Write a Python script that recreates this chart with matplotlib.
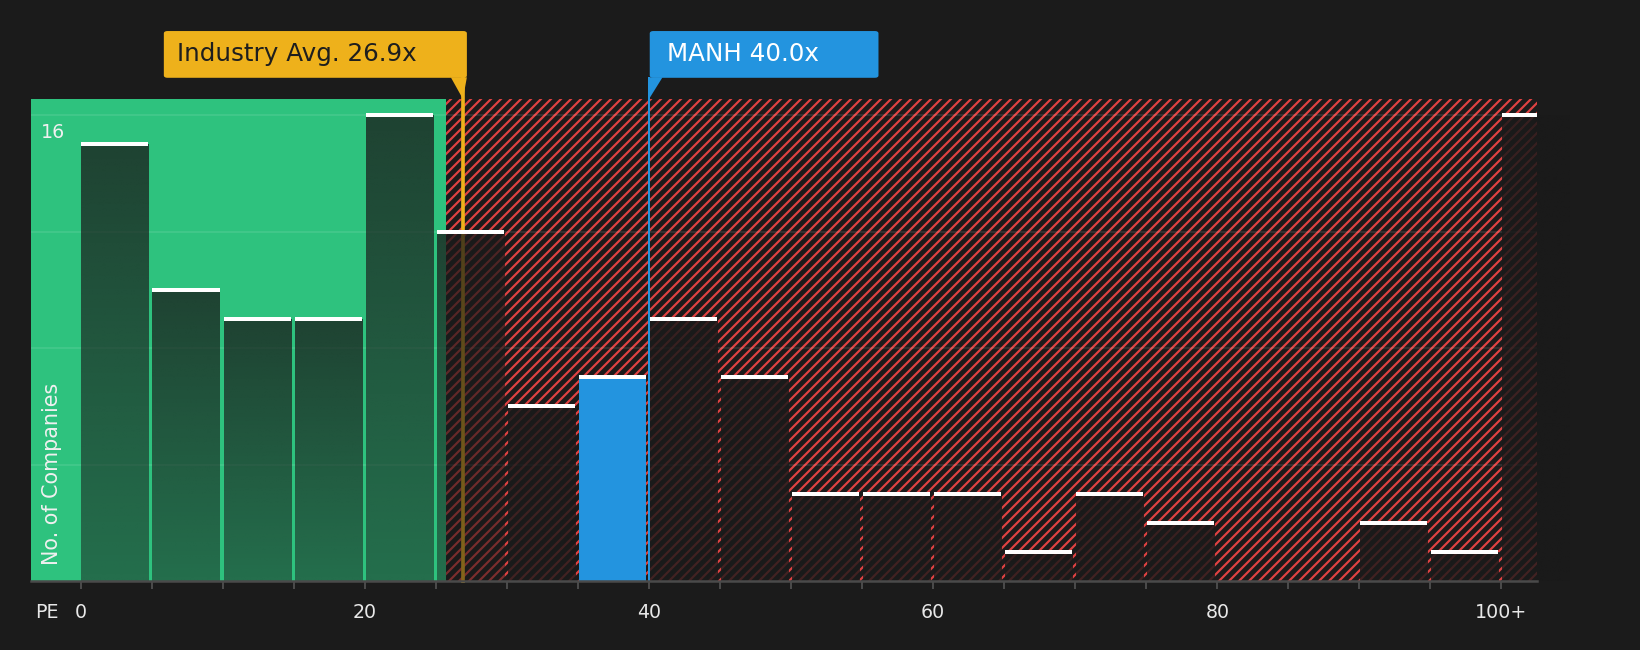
import numpy as np
import matplotlib
matplotlib.use("Agg")
import matplotlib.pyplot as plt
from matplotlib.patches import FancyBboxPatch, Polygon
from matplotlib.transforms import blended_transform_factory

# PE distribution, bins of 5x, last bin is 100+
bin_left = [0, 5, 10, 15, 20, 25, 30, 35, 40, 45, 50, 55, 60, 65, 70, 75, 80, 85, 90, 95, 100]
counts = [15, 10, 9, 9, 16, 12, 6, 7, 9, 7, 3, 3, 3, 1, 3, 2, 0, 0, 2, 1, 16]
tick_vals = [0, 20, 40, 60, 80, 100]
tick_text = ["0", "20", "40", "60", "80", "100+"]

industry_avg = 26.9
company = "MANH"
company_pe = 40.0
fair_edge = 25.7

bg = "#1b1b1b"
green = "#2ec27e"
red = "#e04242"
orange = "#eeb11b"
blue = "#2394df"

plt.rcParams["hatch.linewidth"] = 1.3
plt.rcParams["font.family"] = "DejaVu Sans"

dpi = 120
fig = plt.figure(figsize=(1640 / dpi, 650 / dpi), dpi=dpi, facecolor=bg)
ax = fig.add_axes([31 / 1640, 69 / 650, 1506 / 1640, 482 / 650])
ax.set_facecolor(bg)

xmin, xmax = -3.5, 102.5
ymax = 16.56
ax.set_xlim(xmin, xmax)
ax.set_ylim(0, ymax)

# background zones
ax.axvspan(xmin, fair_edge, color=green, lw=0, zorder=0)
ax.axvspan(fair_edge, xmax, facecolor=bg, edgecolor=red, hatch="////", lw=0, zorder=0)

for g in [4, 8, 12, 16]:
    ax.axhline(g, color="white", alpha=0.09, lw=1.2, zorder=1)

xa = ax.get_xaxis_transform()

# marker lines
ax.plot([industry_avg, industry_avg], [0, 1.044], transform=xa, color=orange,
        lw=2.2, clip_on=False, zorder=2)
ax.plot([company_pe, company_pe], [0, 1.044], transform=xa, color=blue,
        lw=1.2, clip_on=False, zorder=2)

# bars
width = 4.72
lefts = [b + 0.05 for b in bin_left]
bars = ax.bar(lefts, counts, width=width, align="edge", color="none", lw=0, zorder=3)
for left, c, patch in zip(lefts, counts, bars):
    if c == 0:
        continue
    if left <= company_pe < left + width + 0.3:
        patch.set_facecolor(blue)
    else:
        n = 64
        grad = np.zeros((n, 1, 4))
        grad[..., :3] = np.array([26, 26, 26]) / 255
        if left < fair_edge:
            grad[:, 0, 3] = np.linspace(0.76, 0.5, n)
        else:
            grad[:, 0, 3] = np.linspace(0.86, 0.8, n)
        im = ax.imshow(grad, extent=[left, left + width, 0, c], aspect="auto",
                       origin="upper", zorder=3, interpolation="bilinear")
        im.set_clip_path(patch)
    ax.hlines(c, left, left + width, color="white", lw=2.4, zorder=4)

ax.set_xlim(xmin, xmax)
ax.set_ylim(0, ymax)

# axes styling
for s in ["top", "left", "right"]:
    ax.spines[s].set_visible(False)
ax.spines["bottom"].set_color("#4a4a4a")
ax.spines["bottom"].set_linewidth(1.5)
ax.spines["bottom"].set_zorder(5)
ax.set_yticks([])
ax.set_xticks(bin_left)
ax.set_xticklabels([tick_text[tick_vals.index(b)] if b in tick_vals else "" for b in bin_left])
ax.tick_params(axis="x", colors="#4a4a4a", length=5, width=1.2, pad=8.5,
               labelcolor="#e8e8e8", labelsize=11.4)

ya = blended_transform_factory(ax.transAxes, ax.transData)
ax.text(0.0068, 16 - 0.25, "16", transform=ya, color="#f0f0f0", fontsize=11.4,
        va="top", ha="left", zorder=6)
ax.text(0.014, 0.033, "No. of Companies", transform=ax.transAxes, rotation=90,
        color="#f0f0f0", fontsize=12.4, va="bottom", ha="center", zorder=6)
fig.text(35 / 1640, 1 - 613 / 650, "PE", color="#e8e8e8", fontsize=11.4,
         va="center", ha="left")

# label boxes
y0, y1 = 1.044, 1.141
ind_left, ind_right = industry_avg - 21.05, industry_avg + 0.28
box = FancyBboxPatch((ind_left, y0), ind_right - ind_left, y1 - y0,
                     boxstyle="round,pad=0,rounding_size=0.25", transform=xa,
                     fc=orange, ec="none", clip_on=False, zorder=6,
                     mutation_aspect=0.02)
ax.add_patch(box)
ax.add_patch(Polygon([[industry_avg - 0.85, y0 + 0.001], [industry_avg, 1.0],
                      [ind_right, y0 + 0.001]], closed=True, transform=xa,
                     fc=orange, ec="none", clip_on=False, zorder=6))
ax.text(ind_left + 0.9, (y0 + y1) / 2, "Industry Avg. %.1fx" % industry_avg,
        transform=xa, color="#1e1e1e", fontsize=14.8, va="center", ha="left", zorder=7)

co_left, co_right = company_pe + 0.05, company_pe + 16.15
box2 = FancyBboxPatch((co_left, y0), co_right - co_left, y1 - y0,
                      boxstyle="round,pad=0,rounding_size=0.25", transform=xa,
                      fc=blue, ec="none", clip_on=False, zorder=6,
                      mutation_aspect=0.02)
ax.add_patch(box2)
ax.add_patch(Polygon([[co_left, y0 + 0.001], [company_pe, 1.0],
                      [company_pe + 0.95, y0 + 0.001]], closed=True, transform=xa,
                     fc=blue, ec="none", clip_on=False, zorder=6))
ax.text(co_left + 1.2, (y0 + y1) / 2, "%s %.1fx" % (company, company_pe),
        transform=xa, color="white", fontsize=14.8, va="center", ha="left", zorder=7)

fig.savefig("out.png", dpi=dpi, facecolor=bg)
